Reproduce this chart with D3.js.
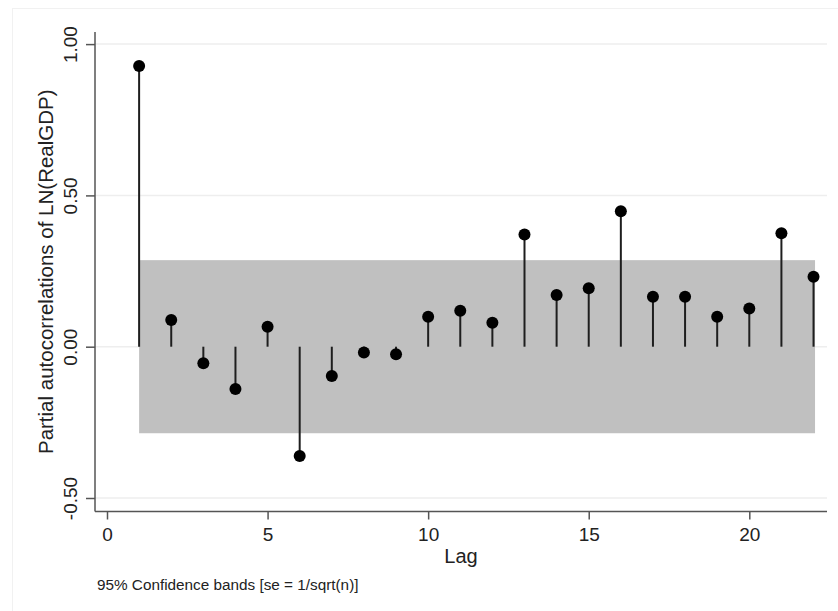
<!DOCTYPE html>
<html>
<head>
<meta charset="utf-8">
<script src="https://cdn.jsdelivr.net/npm/d3@7"></script>
<style>
  html, body { margin: 0; padding: 0; background: #ffffff; }
  svg { display: block; font-family: "Liberation Sans", Arial, Helvetica, sans-serif; }
</style>
</head>
<body>
<svg id="chart" width="838" height="611"></svg>
<script>
// Partial autocorrelations by lag
const lags = [1, 2, 3, 4, 5, 6, 7, 8, 9, 10, 11, 12, 13, 14, 15, 16, 17, 18, 19, 20, 21, 22];
const pacf = [0.928, 0.088, -0.055, -0.140, 0.066, -0.361, -0.097, -0.019, -0.025, 0.099,
              0.119, 0.079, 0.371, 0.171, 0.193, 0.448, 0.165, 0.165, 0.099, 0.126, 0.375, 0.231];
// 95% confidence band half-width
const bandHalfWidth = 0.286;
const xTicks = [0, 5, 10, 15, 20];
const yTicks = [-0.5, 0, 0.5, 1.0];
const yTickLabels = ["-0.50", "0.00", "0.50", "1.00"];
const xTitle = "Lag";
const yTitle = "Partial autocorrelations of LN(RealGDP)";
const note = "95% Confidence bands [se = 1/sqrt(n)]";

const svg = d3.select("#chart");

const x = d3.scaleLinear().domain([0, 20]).range([107, 749.3]);
const y = d3.scaleLinear().domain([0, 1]).range([346.7, 44.1]);

const plotLeft = 95, plotRight = 827, plotTop = 32, plotBottom = 511.5;

// faint outer frame
svg.append("rect")
  .attr("x", 12.5).attr("y", 8.5)
  .attr("width", 840).attr("height", 620)
  .attr("fill", "none").attr("stroke", "#f1f1f1").attr("stroke-width", 1);

// gridlines
svg.append("g").selectAll("line").data(yTicks).join("line")
  .attr("x1", plotLeft).attr("x2", plotRight)
  .attr("y1", d => y(d)).attr("y2", d => y(d))
  .attr("stroke", "#eeeeee").attr("stroke-width", 1.5);

// confidence band
svg.append("rect")
  .attr("x", x(lags[0]))
  .attr("y", y(bandHalfWidth))
  .attr("width", x(lags[lags.length - 1]) - x(lags[0]) + 1.5)
  .attr("height", y(-bandHalfWidth) - y(bandHalfWidth))
  .attr("fill", "#c0c0c0");

// stems
svg.append("g").selectAll("line").data(lags).join("line")
  .attr("x1", d => x(d)).attr("x2", d => x(d))
  .attr("y1", y(0)).attr("y2", (d, i) => y(pacf[i]))
  .attr("stroke", "#1e1e1e").attr("stroke-width", 2);

// points
svg.append("g").selectAll("circle").data(lags).join("circle")
  .attr("cx", d => x(d)).attr("cy", (d, i) => y(pacf[i]))
  .attr("r", 6)
  .attr("fill", "#000000");

// y axis
const yAxis = d3.axisLeft(y).tickValues(yTicks)
  .tickFormat((d, i) => yTickLabels[i]).tickSize(9).tickPadding(0);
const gy = svg.append("g").attr("transform", `translate(${plotLeft},0)`).call(yAxis);
gy.select(".domain").attr("d", `M0,${plotTop}V${plotBottom}`).attr("stroke", "#555555").attr("stroke-width", 1.5);
gy.selectAll(".tick line").attr("stroke", "#555555").attr("stroke-width", 1.5);
gy.selectAll(".tick text")
  .attr("x", 0).attr("y", 0).attr("dy", null)
  .attr("transform", "translate(-18,0) rotate(-90)")
  .attr("text-anchor", "middle")
  .attr("fill", "#222222")
  .style("font-size", "19px");

// x axis
const xAxis = d3.axisBottom(x).tickValues(xTicks).tickSize(8).tickPadding(0);
const gx = svg.append("g").attr("transform", `translate(0,${plotBottom})`).call(xAxis);
gx.select(".domain").attr("d", `M${plotLeft},0H${plotRight}`).attr("stroke", "#555555").attr("stroke-width", 1.5);
gx.selectAll(".tick line").attr("stroke", "#555555").attr("stroke-width", 1.5);
gx.selectAll(".tick text")
  .attr("y", 29.5).attr("dy", null)
  .attr("fill", "#222222")
  .style("font-size", "19px");

// axis titles
svg.append("text")
  .attr("x", (plotLeft + plotRight) / 2).attr("y", 563)
  .attr("text-anchor", "middle")
  .attr("fill", "#222222")
  .style("font-size", "20px")
  .text(xTitle);

svg.append("text")
  .attr("transform", `translate(53,${(plotTop + plotBottom) / 2}) rotate(-90)`)
  .attr("text-anchor", "middle")
  .attr("fill", "#222222")
  .style("font-size", "20.5px")
  .text(yTitle);

// note
svg.append("text")
  .attr("x", 97).attr("y", 590)
  .attr("fill", "#222222")
  .style("font-size", "15.3px")
  .text(note);
</script>
</body>
</html>
